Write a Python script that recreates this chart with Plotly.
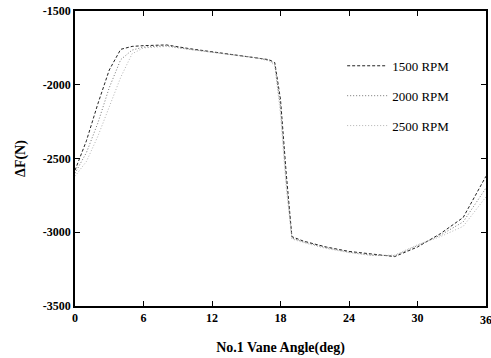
import plotly.graph_objects as go

angle = [0, 1, 2, 3, 4, 5, 6, 8, 10, 12, 14, 16, 17, 17.5, 18, 18.5, 19, 20, 22, 24, 26, 28, 30, 32, 34, 36]
rpm1500 = [-2580, -2380, -2130, -1900, -1760, -1740, -1735, -1730, -1755, -1775, -1795, -1815, -1830, -1850, -2100, -2600, -3030, -3060, -3100, -3130, -3150, -3165, -3100, -3010, -2900, -2620]
rpm2000 = [-2600, -2460, -2260, -2020, -1830, -1765, -1745, -1735, -1760, -1778, -1798, -1818, -1835, -1860, -2150, -2650, -3040, -3065, -3105, -3135, -3155, -3160, -3090, -3020, -2930, -2700]
rpm2500 = [-2620, -2520, -2350, -2150, -1950, -1790, -1750, -1740, -1762, -1780, -1800, -1820, -1838, -1870, -2200, -2700, -3045, -3070, -3110, -3138, -3158, -3155, -3085, -3030, -2960, -2760]
series_names = ["1500 RPM", "2000 RPM", "2500 RPM"]
xticks = [0, 6, 12, 18, 24, 30, 36]
yticks = [-1500, -2000, -2500, -3000, -3500]

font_family = "Liberation Serif"
fig = go.Figure()
styles = [
    dict(color="#222222", width=1.0, dash="3px,2px"),
    dict(color="#666666", width=0.9, dash="1px,2px"),
    dict(color="#aaaaaa", width=0.9, dash="1px,2px"),
]
for i, (name, ys, st) in enumerate(zip(series_names, [rpm1500, rpm2000, rpm2500], styles)):
    fig.add_trace(go.Scatter(x=angle, y=ys, mode="lines", name=name, line=st, legendgroup="g%d" % i))

axis_common = dict(
    showline=True, linecolor="black", linewidth=1.5, mirror="ticks",
    ticks="inside", ticklen=5, tickcolor="black", showgrid=False, zeroline=False,
    tickfont=dict(family=font_family, size=12, color="black"),
)
fig.update_xaxes(range=[0, 36], tickvals=xticks[:-1], ticktext=["<b>" + str(v) + "</b>" for v in xticks[:-1]],
                 title=dict(text="<b>No.1 Vane Angle(deg)</b>", font=dict(family=font_family, size=14, color="black"), standoff=18),
                 **axis_common)
fig.update_yaxes(range=[-3500, -1500], tickvals=yticks, ticktext=["<b>" + str(v) + "</b>" for v in yticks],
                 title=dict(text="<b>ΔF(N)</b>", font=dict(family=font_family, size=14, color="black"), standoff=14),
                 **axis_common)
fig.add_annotation(x=xticks[-1], y=0, xref="x", yref="paper", yanchor="top", yshift=-5,
                   text="<b>%d</b>" % xticks[-1], showarrow=False,
                   font=dict(family=font_family, size=12, color="black"))
fig.update_layout(
    width=491, height=358,
    margin=dict(l=75, r=3, t=11, b=52),
    paper_bgcolor="white", plot_bgcolor="white",
    legend=dict(x=0.65, y=0.865, xanchor="left", yanchor="top", bgcolor="rgba(0,0,0,0)",
                font=dict(family=font_family, size=13, color="black"), tracegroupgap=10,
                itemwidth=40),
    showlegend=True,
)
fig.write_html("out.html")
